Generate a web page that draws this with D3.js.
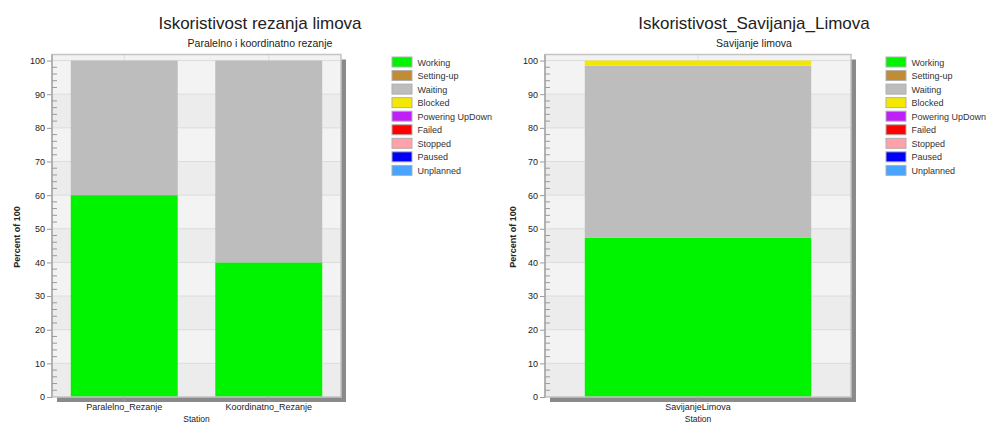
<!DOCTYPE html>
<html>
<head>
<meta charset="utf-8">
<script src="https://cdn.jsdelivr.net/npm/d3@7/dist/d3.min.js"></script>
<style>
  html, body { margin: 0; padding: 0; background: #ffffff; }
  svg { display: block; font-family: Arial, "Liberation Sans", sans-serif; }
</style>
</head>
<body>
<svg id="chart" width="989" height="423"></svg>
<script>
// ---------- data ----------
const legendLabels = ["Working", "Setting-up", "Waiting", "Blocked", "Powering UpDown", "Failed", "Stopped", "Paused", "Unplanned"];
const legendColors = ["#00f400", "#c08c34", "#bdbdbd", "#f5e800", "#c020f8", "#ff0000", "#ffa0aa", "#0000f8", "#48a4ff"];

const chart1Title = "Iskoristivost rezanja limova";
const chart1Subtitle = "Paralelno i koordinatno rezanje";
const chart1Stations = ["Paralelno_Rezanje", "Koordinatno_Rezanje"];
const chart1Working = [60, 40];
const chart1Waiting = [40, 60];
const chart1Blocked = [0, 0];

const chart2Title = "Iskoristivost_Savijanja_Limova";
const chart2Subtitle = "Savijanje limova";
const chart2Stations = ["SavijanjeLimova"];
const chart2Working = [47.3];
const chart2Waiting = [51.2];
const chart2Blocked = [1.5];

const yMajorTicks = [0, 10, 20, 30, 40, 50, 60, 70, 80, 90, 100];
const yAxisTitle = "Percent of 100";
const xAxisTitle = "Station";

// ---------- drawing ----------
const svg = d3.select("#chart");

function drawChart(cfg) {
  const g = svg.append("g");
  const top = 54.5, bottom = 397;
  const y = d3.scaleLinear().domain([0, 101.8]).range([bottom, top]);
  const x = d3.scaleBand().domain(cfg.stations).range([cfg.left, cfg.right])
    .paddingInner(0.26).paddingOuter(0.13);

  // shadow
  g.append("rect")
    .attr("x", cfg.left + 5).attr("y", top + 5)
    .attr("width", cfg.right - cfg.left).attr("height", bottom - top)
    .attr("fill", "#8a8a8a");
  // plot background
  g.append("rect")
    .attr("x", cfg.left).attr("y", top)
    .attr("width", cfg.right - cfg.left).attr("height", bottom - top)
    .attr("fill", "#f2f2f2");
  // alternating bands
  const bands = d3.range(0, 100, 10);
  g.selectAll(".band").data(bands).enter().append("rect")
    .attr("x", cfg.left).attr("width", cfg.right - cfg.left)
    .attr("y", d => y(d + 10)).attr("height", d => y(d) - y(d + 10))
    .attr("fill", d => (d / 10) % 2 === 0 ? "#ececec" : "#f3f3f3");
  // horizontal gridlines
  g.selectAll(".hgrid").data(yMajorTicks.slice(1)).enter().append("line")
    .attr("x1", cfg.left).attr("x2", cfg.right)
    .attr("y1", d => y(d)).attr("y2", d => y(d))
    .attr("stroke", "#dcdcdc").attr("stroke-width", 1);
  // vertical gridlines at category centres
  g.selectAll(".vgrid").data(cfg.stations).enter().append("line")
    .attr("x1", d => x(d) + x.bandwidth() / 2).attr("x2", d => x(d) + x.bandwidth() / 2)
    .attr("y1", top).attr("y2", bottom)
    .attr("stroke", "#dcdcdc").attr("stroke-width", 1);

  // stacked bars
  const rows = cfg.stations.map((s, i) => ({
    station: s, Working: cfg.working[i], Waiting: cfg.waiting[i], Blocked: cfg.blocked[i]
  }));
  const keys = ["Working", "Waiting", "Blocked"];
  const colorOf = k => legendColors[legendLabels.indexOf(k)];
  const stack = d3.stack().keys(keys)(rows);
  stack.forEach(layer => {
    g.selectAll(null).data(layer).enter().append("rect")
      .attr("x", d => x(d.data.station))
      .attr("width", x.bandwidth())
      .attr("y", d => y(d[1]))
      .attr("height", d => Math.max(0, y(d[0]) - y(d[1])))
      .attr("fill", colorOf(layer.key));
  });

  // frame border
  g.append("rect")
    .attr("x", cfg.left).attr("y", top)
    .attr("width", cfg.right - cfg.left).attr("height", bottom - top)
    .attr("fill", "none").attr("stroke", "#c4c4c4").attr("stroke-width", 1.5);

  // y axis
  const yAxis = d3.axisLeft(y).tickValues(yMajorTicks).tickSize(5).tickPadding(2);
  const ya = g.append("g").attr("transform", `translate(${cfg.left},0)`).call(yAxis);
  ya.select(".domain").remove();
  ya.selectAll("line").attr("stroke", "#9a9a9a");
  ya.selectAll("text").attr("font-size", 9).attr("fill", "#222");
  g.append("line").attr("x1", cfg.left).attr("x2", cfg.left)
    .attr("y1", top).attr("y2", bottom).attr("stroke", "#a8a8a8").attr("stroke-width", 1.5);
  const minor = d3.range(0, 101, 2).filter(v => v % 10 !== 0);
  g.selectAll(".minor").data(minor).enter().append("line")
    .attr("x1", cfg.left).attr("x2", cfg.left + 5)
    .attr("y1", d => y(d)).attr("y2", d => y(d))
    .attr("stroke", "#9a9a9a");

  // x axis
  const xAxis = d3.axisBottom(x).tickSize(5).tickPadding(2);
  const xa = g.append("g").attr("transform", `translate(0,${bottom})`).call(xAxis);
  xa.select(".domain").remove();
  xa.selectAll("line").attr("stroke", "#9a9a9a");
  xa.selectAll("text").attr("font-size", 9).attr("fill", "#222");

  // axis titles
  g.append("text")
    .attr("transform", `translate(${cfg.yTitleX},237) rotate(-90)`)
    .attr("text-anchor", "middle").attr("font-size", 9).attr("font-weight", "bold")
    .attr("fill", "#222").text(yAxisTitle);
  g.append("text")
    .attr("x", (cfg.left + cfg.right) / 2).attr("y", 422)
    .attr("text-anchor", "middle").attr("font-size", 8.5).attr("fill", "#222")
    .text(xAxisTitle);

  // titles
  g.append("text").attr("x", cfg.titleX).attr("y", 29)
    .attr("text-anchor", "middle").attr("font-size", 17).attr("fill", "#222")
    .text(cfg.title);
  g.append("text").attr("x", cfg.titleX).attr("y", 47)
    .attr("text-anchor", "middle").attr("font-size", 10.5).attr("fill", "#222")
    .text(cfg.subtitle);

  // legend
  const lg = g.append("g").attr("transform", `translate(${cfg.legendX},56.5)`);
  const items = lg.selectAll(".item").data(legendLabels).enter().append("g")
    .attr("transform", (d, i) => `translate(0,${i * 13.55})`);
  items.append("rect").attr("x", 0.5).attr("y", 0.5).attr("width", 20).attr("height", 10)
    .attr("fill", (d, i) => legendColors[i]).attr("stroke", "#b0b0b0").attr("stroke-width", 1);
  items.append("text").attr("x", 26).attr("y", 9)
    .attr("font-size", 9).attr("fill", "#333").text(d => d);
}

drawChart({
  left: 52, right: 341, titleX: 260, legendX: 391.5, yTitleX: 20,
  title: chart1Title, subtitle: chart1Subtitle,
  stations: chart1Stations, working: chart1Working, waiting: chart1Waiting, blocked: chart1Blocked
});
drawChart({
  left: 545, right: 851, titleX: 754, legendX: 885.5, yTitleX: 516,
  title: chart2Title, subtitle: chart2Subtitle,
  stations: chart2Stations, working: chart2Working, waiting: chart2Waiting, blocked: chart2Blocked
});
</script>
</body>
</html>
